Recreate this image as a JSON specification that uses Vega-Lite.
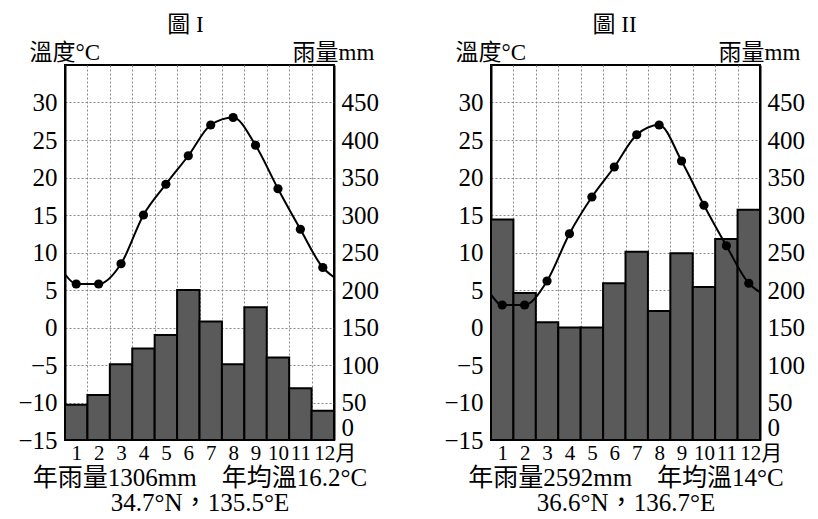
{
  "$schema": "https://vega.github.io/schema/vega-lite/v6.json",
  "background": "white",
  "padding": {"left": 16, "top": 13, "right": 5, "bottom": 0},
  "config": {
    "view": {"stroke": "#000", "strokeWidth": 2},
    "axis": {
      "labelFont": "Liberation Serif, Noto Sans CJK TC",
      "titleFont": "Liberation Serif, Noto Sans CJK TC",
      "labelColor": "#000",
      "titleColor": "#000",
      "titleFontWeight": "normal",
      "labelOverlap": false,
      "ticks": false,
      "gridColor": "#888",
      "gridDash": [2, 2],
      "gridWidth": 1,
      "domainColor": "#000",
      "domainWidth": 2
    },
    "title": {"font": "Liberation Serif, Noto Sans CJK TC", "fontSize": 23, "fontWeight": "normal", "color": "#000"}
  },
  "datasets": {
    "rain1": [
      {"month": 1, "rain": 47}, {"month": 2, "rain": 60}, {"month": 3, "rain": 101},
      {"month": 4, "rain": 122}, {"month": 5, "rain": 140}, {"month": 6, "rain": 200},
      {"month": 7, "rain": 158}, {"month": 8, "rain": 101}, {"month": 9, "rain": 177},
      {"month": 10, "rain": 110}, {"month": 11, "rain": 69}, {"month": 12, "rain": 39}
    ],
    "temp1": [
      {"month": 0.5, "temp": 7.1}, {"month": 1, "temp": 5.8}, {"month": 2, "temp": 5.8},
      {"month": 3, "temp": 8.5}, {"month": 4, "temp": 15.0}, {"month": 5, "temp": 19.1},
      {"month": 6, "temp": 22.9}, {"month": 7, "temp": 27.0}, {"month": 8, "temp": 28.0},
      {"month": 9, "temp": 24.3}, {"month": 10, "temp": 18.5}, {"month": 11, "temp": 13.1},
      {"month": 12, "temp": 8.0}, {"month": 12.5, "temp": 6.7}
    ],
    "rain2": [
      {"month": 1, "rain": 294}, {"month": 2, "rain": 196}, {"month": 3, "rain": 157},
      {"month": 4, "rain": 150}, {"month": 5, "rain": 150}, {"month": 6, "rain": 209},
      {"month": 7, "rain": 251}, {"month": 8, "rain": 172}, {"month": 9, "rain": 249},
      {"month": 10, "rain": 204}, {"month": 11, "rain": 268}, {"month": 12, "rain": 307}
    ],
    "temp2": [
      {"month": 0.5, "temp": 4.4}, {"month": 1, "temp": 3.0}, {"month": 2, "temp": 3.0},
      {"month": 3, "temp": 6.2}, {"month": 4, "temp": 12.5}, {"month": 5, "temp": 17.4},
      {"month": 6, "temp": 21.4}, {"month": 7, "temp": 25.7}, {"month": 8, "temp": 27.0},
      {"month": 9, "temp": 22.2}, {"month": 10, "temp": 16.3}, {"month": 11, "temp": 10.9},
      {"month": 12, "temp": 5.9}, {"month": 12.5, "temp": 4.7}
    ]
  },
  "spacing": 62,
  "hconcat": [
    {
      "width": 269,
      "height": 375,
      "title": {"text": "圖 I", "dx": -14, "offset": 4},
      "resolve": {"scale": {"x": "independent", "y": "independent"}},
      "layer": [
        {
          "data": {"name": "rain1"},
          "mark": {"type": "bar", "fill": "#5a5a5a", "stroke": "#000", "strokeWidth": 2},
          "encoding": {
            "x": {
              "field": "month", "type": "ordinal",
              "scale": {"paddingInner": 0, "paddingOuter": 0},
              "axis": {
                "labelAngle": 0, "labelFontSize": 21, "labelPadding": 2,
                "labelExpr": "datum.value == 12 ? '12月' : datum.label",
                "labelOffset": {"condition": {"test": "datum.value == 12", "value": 12}, "value": 0},
                "tickBand": "extent", "grid": true, "domain": false,
                "title": ["年雨量1306mm\u00a0\u00a0\u00a0\u00a0年均溫16.2°C", "34.7°N，135.5°E"],
                "titleFontSize": 25, "titleLineHeight": 25, "titlePadding": 2
              }
            },
            "y": {
              "field": "rain", "type": "quantitative",
              "scale": {"domain": [0, 500], "nice": false},
              "axis": {
                "orient": "right", "values": [0, 50, 100, 150, 200, 250, 300, 350, 400, 450],
                "grid": false, "labelFontSize": 25, "labelPadding": 7, "labelFlush": true,
                "title": "雨量mm", "titleAngle": 0, "titleFontSize": 23, "titleAlign": "left",
                "titleBaseline": "alphabetic", "titleX": -42, "titleY": -6
              }
            }
          }
        },
        {
          "data": {"name": "temp1"},
          "mark": {"type": "line", "interpolate": "monotone", "color": "#000", "strokeWidth": 2},
          "encoding": {
            "x": {"field": "month", "type": "quantitative", "scale": {"domain": [0.5, 12.5], "nice": false, "zero": false}, "axis": null},
            "y": {
              "field": "temp", "type": "quantitative",
              "scale": {"domain": [-15, 35], "nice": false, "zero": false},
              "axis": {
                "orient": "left", "values": [-15, -10, -5, 0, 5, 10, 15, 20, 25, 30],
                "grid": true, "labelFontSize": 25, "labelPadding": 8,
                "title": "溫度°C", "titleAngle": 0, "titleFontSize": 23, "titleAlign": "left",
                "titleBaseline": "alphabetic", "titleX": -36, "titleY": -6
              }
            }
          }
        },
        {
          "data": {"name": "temp1"},
          "transform": [{"filter": "datum.month >= 1 && datum.month <= 12"}],
          "mark": {"type": "point", "filled": true, "color": "#000", "size": 85, "opacity": 1},
          "encoding": {
            "x": {"field": "month", "type": "quantitative", "scale": {"domain": [0.5, 12.5], "nice": false, "zero": false}, "axis": null},
            "y": {"field": "temp", "type": "quantitative", "scale": {"domain": [-15, 35], "nice": false, "zero": false}, "axis": null}
          }
        }
      ]
    },
    {
      "width": 269,
      "height": 375,
      "title": {"text": "圖 II", "dx": -11, "offset": 4},
      "resolve": {"scale": {"x": "independent", "y": "independent"}},
      "layer": [
        {
          "data": {"name": "rain2"},
          "mark": {"type": "bar", "fill": "#5a5a5a", "stroke": "#000", "strokeWidth": 2},
          "encoding": {
            "x": {
              "field": "month", "type": "ordinal",
              "scale": {"paddingInner": 0, "paddingOuter": 0},
              "axis": {
                "labelAngle": 0, "labelFontSize": 21, "labelPadding": 2,
                "labelExpr": "datum.value == 12 ? '12月' : datum.label",
                "labelOffset": {"condition": {"test": "datum.value == 12", "value": 12}, "value": 0},
                "tickBand": "extent", "grid": true, "domain": false,
                "title": ["年雨量2592mm\u00a0\u00a0\u00a0\u00a0年均溫14°C", "36.6°N，136.7°E"],
                "titleFontSize": 25, "titleLineHeight": 25, "titlePadding": 2
              }
            },
            "y": {
              "field": "rain", "type": "quantitative",
              "scale": {"domain": [0, 500], "nice": false},
              "axis": {
                "orient": "right", "values": [0, 50, 100, 150, 200, 250, 300, 350, 400, 450],
                "grid": false, "labelFontSize": 25, "labelPadding": 7, "labelFlush": true,
                "title": "雨量mm", "titleAngle": 0, "titleFontSize": 23, "titleAlign": "left",
                "titleBaseline": "alphabetic", "titleX": -42, "titleY": -6
              }
            }
          }
        },
        {
          "data": {"name": "temp2"},
          "mark": {"type": "line", "interpolate": "monotone", "color": "#000", "strokeWidth": 2},
          "encoding": {
            "x": {"field": "month", "type": "quantitative", "scale": {"domain": [0.5, 12.5], "nice": false, "zero": false}, "axis": null},
            "y": {
              "field": "temp", "type": "quantitative",
              "scale": {"domain": [-15, 35], "nice": false, "zero": false},
              "axis": {
                "orient": "left", "values": [-15, -10, -5, 0, 5, 10, 15, 20, 25, 30],
                "grid": true, "labelFontSize": 25, "labelPadding": 8,
                "title": "溫度°C", "titleAngle": 0, "titleFontSize": 23, "titleAlign": "left",
                "titleBaseline": "alphabetic", "titleX": -36, "titleY": -6
              }
            }
          }
        },
        {
          "data": {"name": "temp2"},
          "transform": [{"filter": "datum.month >= 1 && datum.month <= 12"}],
          "mark": {"type": "point", "filled": true, "color": "#000", "size": 85, "opacity": 1},
          "encoding": {
            "x": {"field": "month", "type": "quantitative", "scale": {"domain": [0.5, 12.5], "nice": false, "zero": false}, "axis": null},
            "y": {"field": "temp", "type": "quantitative", "scale": {"domain": [-15, 35], "nice": false, "zero": false}, "axis": null}
          }
        }
      ]
    }
  ]
}
